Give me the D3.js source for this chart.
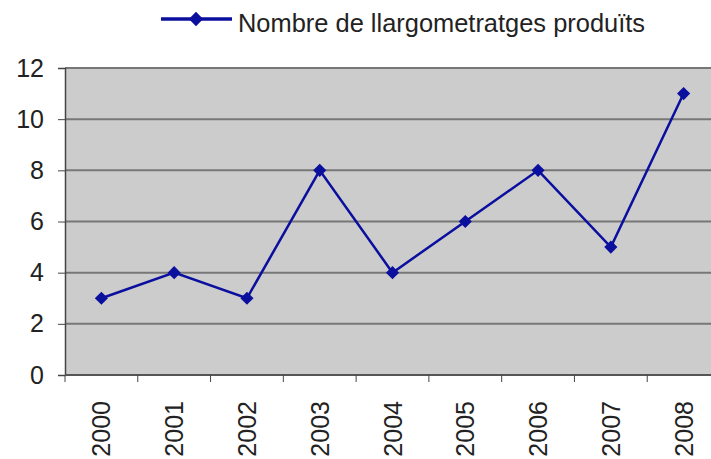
<!doctype html>
<html lang="fr">
<head>
<meta charset="utf-8">
<script src="https://d3js.org/d3.v7.min.js"></script>
<title>Nombre de llargometratges produïts</title>
<style>
  body { margin: 0; background: #fff; }
  svg { display: block; font-family: "Liberation Sans", Arial, sans-serif; }
</style>
</head>
<body>
<svg id="svg1" width="711" height="459"></svg>
<script>
  // data
  let years = ["2000", "2001", "2002", "2003", "2004", "2005", "2006", "2007", "2008"];
  let films = [3, 4, 3, 8, 4, 6, 8, 5, 11];
  let yTicks = [0, 2, 4, 6, 8, 10, 12];
  let seriesName = "Nombre de llargometratges produïts";

  let width = 711, height = 459;
  let margin = { top: 68, right: -9, bottom: 84, left: 65 };

  let svg = d3.select("#svg1");

  let xScale = d3.scaleBand()
    .domain(years)
    .range([margin.left, width - margin.right]);

  let yScale = d3.scaleLinear()
    .domain([0, 12])
    .range([height - margin.bottom, margin.top]);

  let lineColor = "#0b0f9e";

  // plot background
  svg.append("rect")
    .attr("x", margin.left)
    .attr("y", yScale(12))
    .attr("width", xScale.range()[1] - margin.left)
    .attr("height", yScale(0) - yScale(12))
    .attr("fill", "#cccccc");

  // gridlines
  svg.append("g")
    .selectAll("line")
    .data(yTicks.filter(d => d > 0))
    .join("line")
    .attr("x1", margin.left)
    .attr("x2", xScale.range()[1])
    .attr("y1", d => yScale(d))
    .attr("y2", d => yScale(d))
    .attr("stroke", "#777")
    .attr("stroke-width", 2);

  // y axis
  let yAxis = svg.append("g")
    .attr("transform", `translate(${margin.left},0)`)
    .call(d3.axisLeft(yScale).tickValues(yTicks).tickSize(7).tickPadding(14));
  yAxis.select(".domain").attr("stroke", "#444").attr("stroke-width", 1.5);
  yAxis.selectAll(".tick line").attr("stroke", "#444");
  yAxis.selectAll("text").attr("font-size", 25).attr("fill", "#222")
    .attr("font-family", "Liberation Sans, Arial, sans-serif");

  // x axis: ticks between categories
  let xAxisG = svg.append("g")
    .attr("transform", `translate(0,${yScale(0)})`);
  xAxisG.append("line")
    .attr("x1", margin.left)
    .attr("x2", xScale.range()[1])
    .attr("stroke", "#555")
    .attr("stroke-width", 2);
  xAxisG.selectAll(".sep")
    .data(years)
    .join("line")
    .attr("class", "sep")
    .attr("x1", d => xScale(d))
    .attr("x2", d => xScale(d))
    .attr("y1", 0)
    .attr("y2", 7)
    .attr("stroke", "#444");
  xAxisG.selectAll("text")
    .data(years)
    .join("text")
    .attr("transform", d => `translate(${xScale(d) + xScale.bandwidth() / 2 + 9},26) rotate(-90)`)
    .attr("text-anchor", "end")
    .attr("font-size", 25)
    .attr("fill", "#222")
    .text(d => d);

  // series line
  let pts = years.map((y, i) => [xScale(y) + xScale.bandwidth() / 2, yScale(films[i])]);
  svg.append("path")
    .datum(pts)
    .attr("d", d3.line())
    .attr("fill", "none")
    .attr("stroke", lineColor)
    .attr("stroke-width", 2.5);

  let diamond = d3.symbol().type(d3.symbolDiamond2).size(110);
  svg.append("g")
    .selectAll("path")
    .data(pts)
    .join("path")
    .attr("transform", d => `translate(${d[0]},${d[1]})`)
    .attr("d", diamond)
    .attr("fill", lineColor);

  // legend
  let legend = svg.append("g").attr("transform", "translate(161,19)");
  legend.append("line")
    .attr("x1", 0).attr("x2", 71)
    .attr("stroke", lineColor).attr("stroke-width", 3.5);
  legend.append("path")
    .attr("transform", "translate(35,0)")
    .attr("d", d3.symbol().type(d3.symbolDiamond2).size(130))
    .attr("fill", lineColor);
  legend.append("text")
    .attr("x", 77)
    .attr("y", 13)
    .attr("font-size", 26)
    .attr("fill", "#222")
    .attr("textLength", 407)
    .attr("lengthAdjust", "spacingAndGlyphs")
    .text(seriesName);
</script>
</body>
</html>
